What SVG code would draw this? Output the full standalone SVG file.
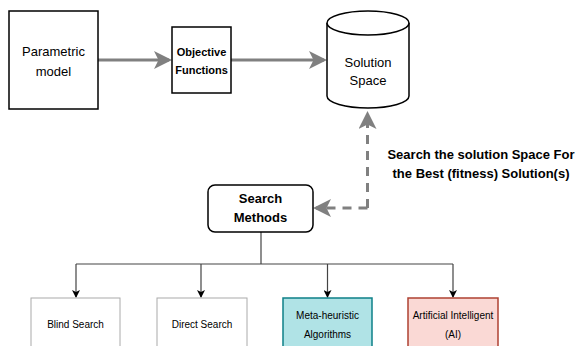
<svg xmlns="http://www.w3.org/2000/svg" width="579" height="346" viewBox="0 0 579 346">
<defs>
<style>
.t{font-family:"Liberation Sans",Arial,sans-serif;fill:#000;text-anchor:middle}
.b{font-weight:bold}
.big{stroke:#808080;stroke-width:3;fill:none}
.thin{stroke:#444;stroke-width:1.2;fill:none}
</style>
<marker id="ag" markerWidth="6" markerHeight="6" refX="5" refY="3" orient="auto" markerUnits="strokeWidth" viewBox="0 0 6 6">
<path d="M0,0 L6,3 L0,6 L1.5,3 z" fill="#808080"/>
</marker>
<marker id="ak" markerWidth="8" markerHeight="8" refX="7" refY="4" orient="auto" markerUnits="userSpaceOnUse" viewBox="0 0 8 8">
<path d="M0,0 L8,4 L0,8 L2,4 z" fill="#000"/>
</marker>
</defs>
<rect width="579" height="346" fill="#fff"/>
<g id="connectors">
<line class="big" x1="98" y1="60" x2="169" y2="60" marker-end="url(#ag)"/>
<line class="big" x1="231" y1="60" x2="324" y2="60" marker-end="url(#ag)"/>
<path class="big" d="M367.5,208 V114" stroke-dasharray="9,7" marker-end="url(#ag)"/>
<path class="big" d="M367.5,208 H316" stroke-dasharray="9,7" marker-end="url(#ag)"/>
<path class="big" d="M367.5,200 V208"/>
<path class="thin" d="M261,232 V264"/>
<path class="thin" d="M76,264 H453"/>
<line class="thin" x1="76" y1="264" x2="76" y2="297" marker-end="url(#ak)"/>
<line class="thin" x1="201" y1="264" x2="201" y2="297" marker-end="url(#ak)"/>
<line class="thin" x1="327.5" y1="264" x2="327.5" y2="297" marker-end="url(#ak)"/>
<line class="thin" x1="453" y1="264" x2="453" y2="297" marker-end="url(#ak)"/>
</g>
<g id="parametric">
<rect x="9" y="11" width="89" height="98" fill="#fff" stroke="#000" stroke-width="1.5"/>
<text class="t" x="53.5" y="56" font-size="13">Parametric</text>
<text class="t" x="53.5" y="76" font-size="13">model</text>
</g>
<g id="objective">
<rect x="172" y="27" width="59" height="66" fill="#fff" stroke="#000" stroke-width="1.5"/>
<text class="t b" x="201.5" y="56" font-size="11">Objective</text>
<text class="t b" x="201.5" y="74" font-size="11">Functions</text>
</g>
<g id="solution">
<path d="M327,23 V96 A41,12 0 0 0 409,96 V23" fill="#fff" stroke="#000" stroke-width="1.5"/>
<ellipse cx="368" cy="23" rx="41" ry="12" fill="#fff" stroke="#000" stroke-width="1.5"/>
<text class="t" x="368" y="67" font-size="13">Solution</text>
<text class="t" x="368" y="85" font-size="13">Space</text>
</g>
<g id="label">
<text class="t b" x="481" y="159" font-size="13">Search the solution Space For</text>
<text class="t b" x="481" y="178" font-size="13">the Best (fitness) Solution(s)</text>
</g>
<g id="search">
<rect x="208" y="185" width="105" height="47" rx="7" fill="#fff" stroke="#000" stroke-width="1.5"/>
<text class="t b" x="260.5" y="203" font-size="13">Search</text>
<text class="t b" x="260.5" y="222" font-size="13">Methods</text>
</g>
<g id="blind">
<rect x="31" y="298" width="89" height="60" fill="#fff" stroke="#aaa" stroke-width="1"/>
<text class="t" x="75.5" y="328" font-size="10">Blind Search</text>
</g>
<g id="direct">
<rect x="157" y="298" width="90" height="60" fill="#fff" stroke="#aaa" stroke-width="1"/>
<text class="t" x="202" y="328" font-size="10">Direct Search</text>
</g>
<g id="meta">
<rect x="283" y="298" width="89" height="60" fill="#b0e3e6" stroke="#0e8088" stroke-width="1.5"/>
<text class="t" x="327.5" y="319" font-size="10">Meta-heuristic</text>
<text class="t" x="327.5" y="338" font-size="10">Algorithms</text>
</g>
<g id="ai">
<rect x="408" y="298" width="90" height="60" fill="#fad9d5" stroke="#ae4132" stroke-width="1.5"/>
<text class="t" x="453" y="319" font-size="10">Artificial Intelligent</text>
<text class="t" x="453" y="338" font-size="10">(AI)</text>
</g>
</svg>
